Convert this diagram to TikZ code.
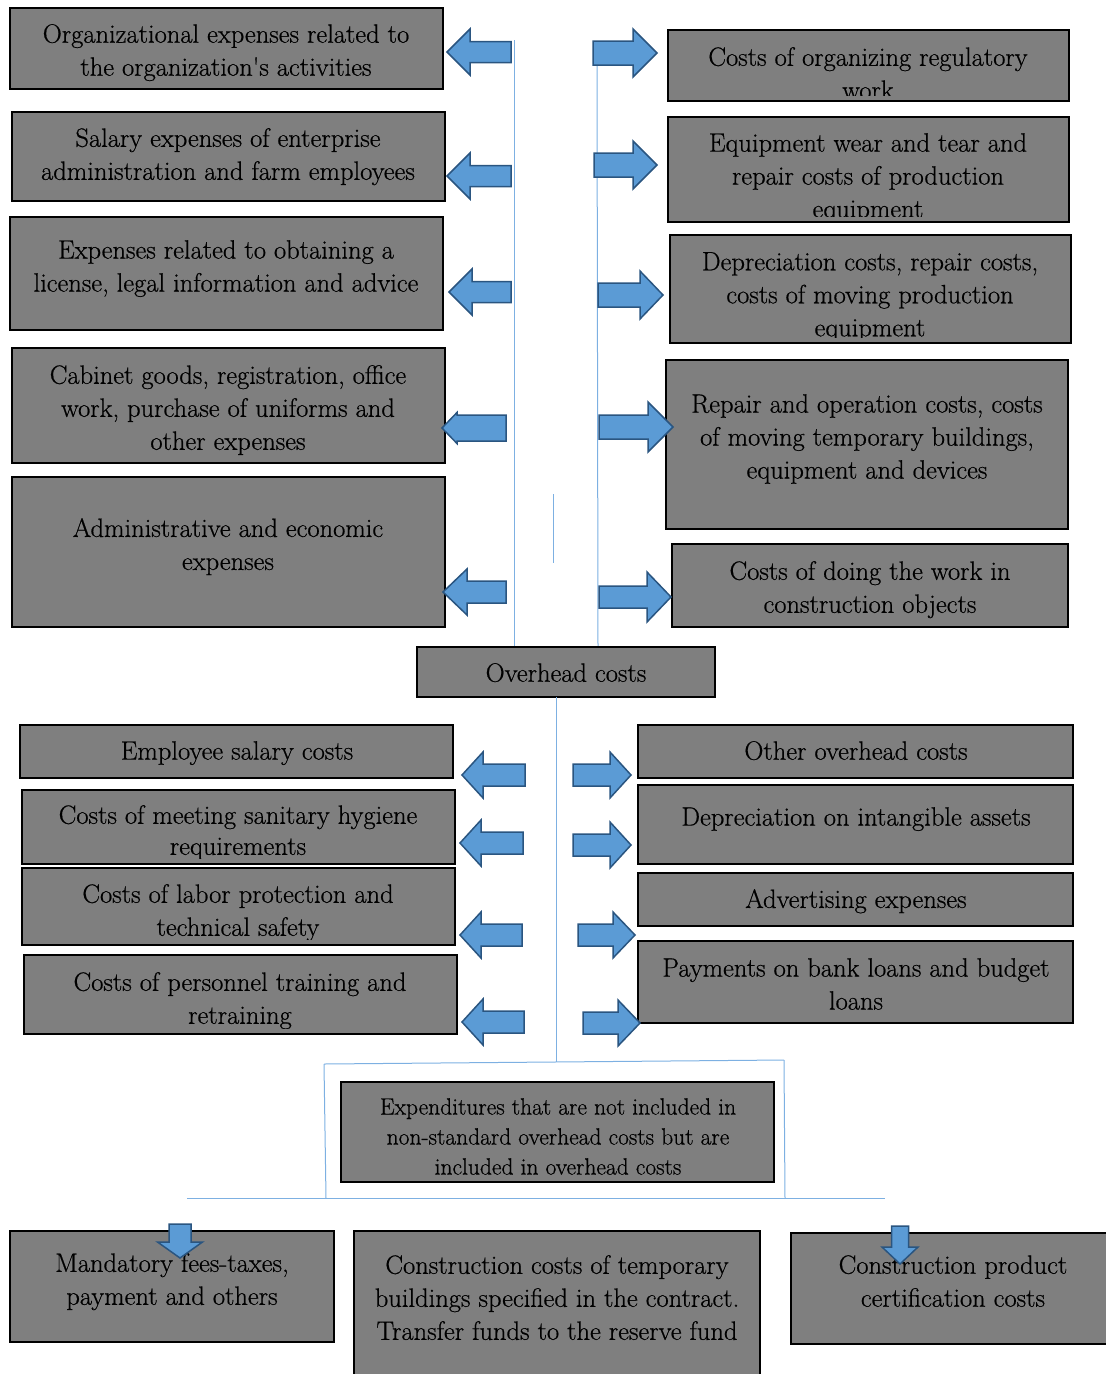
\documentclass[tikz,border=0pt]{standalone}
\usepackage{fontspec}
\newfontfamily\tnrfont{Latin Modern Roman}[FakeBold=0.6]
\definecolor{boxgray}{HTML}{7F7F7F}
\definecolor{arrfill}{HTML}{5B9BD5}
\definecolor{arrdraw}{HTML}{2A5580}
\definecolor{linkblue}{HTML}{7DB0E2}
\tikzset{
  gboxst/.style={draw=black, line width=1.8pt, fill=boxgray, inner sep=0pt, outer sep=0pt},
  gtext/.style={inner sep=0pt, align=center, text=black, font=\tnrfont\fontsize{26.5}{33}\selectfont},
  stext/.style={inner sep=0pt, align=center, text=black, font=\tnrfont\fontsize{23.5}{30}\selectfont},
  blockarr/.style={fill=arrfill, draw=arrdraw, line width=1.5pt, line join=miter},
  linkline/.style={draw=linkblue, line width=1pt}
}
% name x1 y1 x2 y2 textx texttop textstyle text
\newcommand{\gbox}[9]{%
  \node[gboxst, minimum width={#4-#2}, minimum height={#5-#3}] (#1) at ({(#2+#4)/2},{(#3+#5)/2}) {};
  \begin{scope}
    \clip (#2+1,#3+1) rectangle (#4-1,#5-6);
    \node[#8, anchor=north] (#1t) at (#6,#7+1) {#9};
  \end{scope}}
% horizontal block arrow: tipx tailx y headbasex headhalf shafthalf
\newcommand{\harr}[6]{%
  \draw[blockarr] (#1,#3) -- (#4,#3-#5) -- (#4,#3-#6) -- (#2,#3-#6) -- (#2,#3+#6)
    -- (#4,#3+#6) -- (#4,#3+#5) -- cycle;}
% vertical block arrow: x topy headbasey tipy headhalf shafthalf
\newcommand{\varr}[6]{%
  \draw[blockarr] (#1,#4) -- (#1-#5,#3) -- (#1-#6,#3) -- (#1-#6,#2) -- (#1+#6,#2)
    -- (#1+#6,#3) -- (#1+#5,#3) -- cycle;}
\begin{document}
\begin{tikzpicture}[x=1pt,y=-1pt]
\useasboundingbox (0,0) rectangle (1106,1374);

% connector coordinates
\coordinate (ltop) at (514,40);
\coordinate (lbot) at (514,657);
\coordinate (rtop) at (597,65);
\coordinate (rbot) at (598,647);
\coordinate (stray1) at (553,494);
\coordinate (stray2) at (553,563);
\coordinate (cdown) at (556,1062);
\coordinate (bl) at (324,1064);
\coordinate (br) at (784,1060);
\coordinate (bl2) at (326,1198);
\coordinate (br2) at (785,1198);
\coordinate (hl) at (187,1198);
\coordinate (hr) at (885,1198);

\draw[linkline] (ltop) -- (lbot);
\draw[linkline] (rtop) -- (rbot);
\draw[linkline] (stray1) -- (stray2);
\draw[linkline] (bl) -- (br);
\draw[linkline] (bl) -- (bl2);
\draw[linkline] (br) -- (br2);
\draw[linkline] (hl) -- (hr);

% upper left column
\gbox{a1}{10}{8}{443}{89}{226}{23}{gtext}{Organizational expenses related to\\the organization's activities}
\gbox{a2}{12}{112}{445}{201}{228}{127}{gtext}{Salary expenses of enterprise\\administration and farm employees}
\gbox{a3}{10}{217}{443}{330}{226}{239}{gtext}{Expenses related to obtaining a\\license, legal information and advice}
\gbox{a4}{12}{348}{445}{463}{228}{364}{gtext}{Cabinet goods, registration, office\\work, purchase of uniforms and\\other expenses}
\gbox{a5}{12}{477}{445}{627}{228}{517}{gtext}{Administrative and economic\\expenses}

% upper right column
\gbox{b1}{668}{30}{1069}{101}{868}{46}{gtext}{Costs of organizing regulatory\\work}
\gbox{b2}{668}{117}{1069}{222}{868}{132}{gtext}{Equipment wear and tear and\\repair costs of production\\equipment}
\gbox{b3}{670}{235}{1071}{343}{870}{251}{gtext}{Depreciation costs, repair costs,\\costs of moving production\\equipment}
\gbox{b4}{666}{360}{1068}{529}{867}{393}{gtext}{Repair and operation costs, costs\\of moving temporary buildings,\\equipment and devices}
\gbox{b5}{672}{544}{1068}{627}{870}{560}{gtext}{Costs of doing the work in\\construction objects}

% centre
\gbox{oh}{417}{647}{715}{697}{566}{662}{gtext}{Overhead costs}
\draw[linkline] (oh.south -| cdown) -- (cdown);

% lower left
\gbox{c1}{20}{725}{453}{778}{237}{740}{gtext}{Employee salary costs}
\gbox{c2}{22}{790}{455}{864}{238}{804}{gtext}{Costs of meeting sanitary hygiene\\[-2pt]requirements}
\gbox{c3}{22}{868}{455}{945}{238}{883}{gtext}{Costs of labor protection and\\technical safety}
\gbox{c4}{24}{955}{457}{1034}{240}{971}{gtext}{Costs of personnel training and\\retraining}

% lower right
\gbox{d1}{638}{725}{1073}{778}{856}{740}{gtext}{Other overhead costs}
\gbox{d2}{638}{785}{1073}{864}{856}{806}{gtext}{Depreciation on intangible assets}
\gbox{d3}{638}{873}{1073}{926}{856}{888}{gtext}{Advertising expenses}
\gbox{d4}{638}{941}{1073}{1023}{856}{957}{gtext}{Payments on bank loans and budget\\loans}

% expenditures box
\gbox{ex}{341}{1082}{774}{1182}{558}{1097}{stext}{Expenditures that are not included in\\non-standard overhead costs but are\\included in overhead costs}

% bottom row
\gbox{e1}{10}{1231}{334}{1342}{172}{1252}{gtext}{Mandatory fees-taxes,\\payment and others}
\gbox{e2}{354}{1231}{760}{1390}{557}{1254}{gtext}{Construction costs of temporary\\buildings specified in the contract.\\Transfer funds to the reserve fund}
\gbox{e3}{791}{1233}{1115}{1344}{953}{1254}{gtext}{Construction product\\certification costs}

% upper block arrows
\harr{447}{511}{52}{470}{23}{10.5}
\harr{447}{511}{176}{470}{23}{10.5}
\harr{449}{511}{292}{472}{23}{10.5}
\harr{442}{506}{428}{457}{15.5}{13}
\harr{443}{506}{592}{467}{23}{11}
\harr{657}{593}{53}{633}{24}{12}
\harr{657}{594}{165}{633}{24}{12}
\harr{663}{598}{295}{640}{24}{12}
\harr{673}{599}{427}{648}{25}{12}
\harr{671}{599}{597}{647}{25}{11}

% lower block arrows
\harr{462}{525}{775}{483}{23}{11}
\harr{460}{523}{843}{481}{23}{11}
\harr{460}{522}{935}{481}{23}{11}
\harr{462}{524}{1022}{483}{23}{11}
\harr{631}{573}{775}{610}{23}{11}
\harr{631}{573}{845}{610}{23}{11}
\harr{635}{578}{935}{613}{23}{11}
\harr{640}{583}{1023}{618}{23}{11}

% down arrows
\varr{180}{1224}{1242}{1258}{22.5}{11}
\varr{900}{1226}{1247}{1264}{18}{8.5}
\end{tikzpicture}
\end{document}
